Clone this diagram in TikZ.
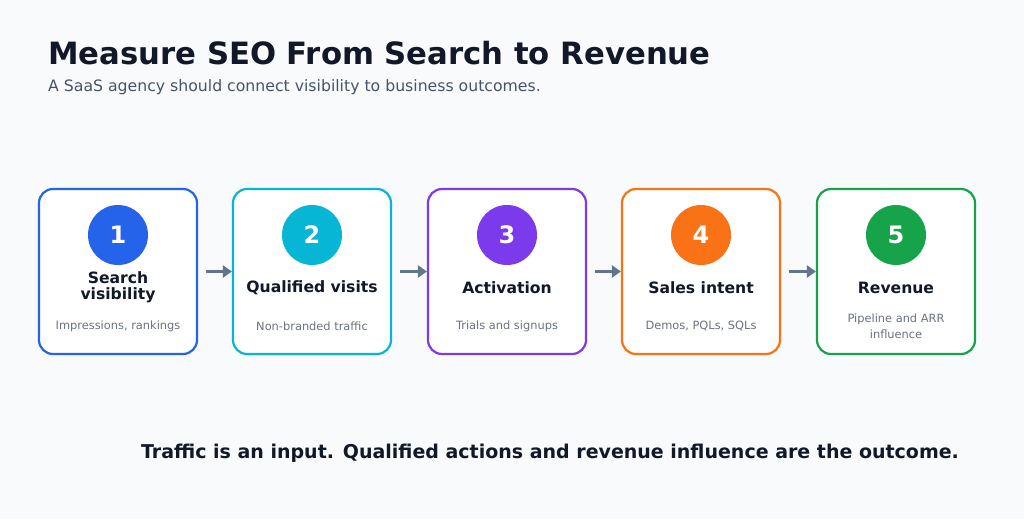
\documentclass[tikz,border=0pt]{standalone}
\usepackage{fontspec}
\setmainfont{DejaVu Sans}
\usetikzlibrary{arrows.meta}
\definecolor{bgcol}{HTML}{F8FAFC}
\definecolor{inkcol}{HTML}{111827}
\definecolor{subcol}{HTML}{475569}
\definecolor{notecol}{HTML}{6B7280}
\definecolor{flowcol}{HTML}{64748B}
\definecolor{stepblue}{HTML}{2563EB}
\definecolor{stepcyan}{HTML}{06B6D4}
\definecolor{steppurple}{HTML}{7C3AED}
\definecolor{steporange}{HTML}{F97316}
\definecolor{stepgreen}{HTML}{16A34A}
\tikzset{
  stage/.style={draw=#1, line width=2.2pt, rounded corners=14pt, fill=white,
    minimum width=158pt, minimum height=165pt},
  badge/.style={circle, fill=#1, minimum size=60pt, inner sep=0pt,
    text=white, font=\bfseries\fontsize{24}{28}\selectfont},
  stagehead/.style={align=center, text=inkcol, font=\bfseries\fontsize{15.6}{16}\selectfont},
  stagenote/.style={align=center, text=notecol, font=\fontsize{11.4}{16.5}\selectfont},
  flow/.style={draw=flowcol, line width=3.5pt, -{Triangle[length=9pt,width=12pt]}}
}
\begin{document}
\begin{tikzpicture}[x=1pt,y=-1pt]
  \fill[bgcol] (0,0) rectangle (1024,519); % page
  \useasboundingbox (0,0) rectangle (1024,519);
  \node[anchor=base west, text=inkcol, font=\bfseries\fontsize{30.7}{36}\selectfont, inner sep=0pt] (title) at (48,64) {Measure SEO From Search to Revenue};
  \node[anchor=base west, text=subcol, font=\fontsize{15.7}{18}\selectfont, inner sep=0pt] (subtitle) at (48,91) {A SaaS agency should connect visibility to business outcomes.};
  % the five steps
  \foreach \i/\c/\x/\head/\note in {
      1/stepblue/118/{Search\\visibility}/{Impressions, rankings},
      2/stepcyan/312/{Qualified visits}/{Non-branded traffic},
      3/steppurple/507/{Activation}/{Trials and signups},
      4/steporange/701/{Sales intent}/{Demos, PQLs, SQLs},
      5/stepgreen/896/{Revenue}/{Pipeline and ARR\\influence}} {
    \node[stage=\c] (box\i) at (\x,271.5) {};
    \node[badge=\c] (num\i) at (\x,235) {\i};
    \node[stagehead] (head\i) at (\x,287.5) {\head};
    \node[stagenote] (note\i) at (\x,326) {\note};
  }
  \foreach \i [evaluate=\i as \j using int(\i+1)] in {1,...,4}
    \draw[flow] ([xshift=8pt]box\i.east) -- (box\j.west);
  \node[anchor=base, text=inkcol, font=\bfseries\fontsize{19}{22}\selectfont, inner sep=0pt] (takeaway) at (550,458) {Traffic is an input. Qualified actions and revenue influence are the outcome.};
\end{tikzpicture}
\end{document}
